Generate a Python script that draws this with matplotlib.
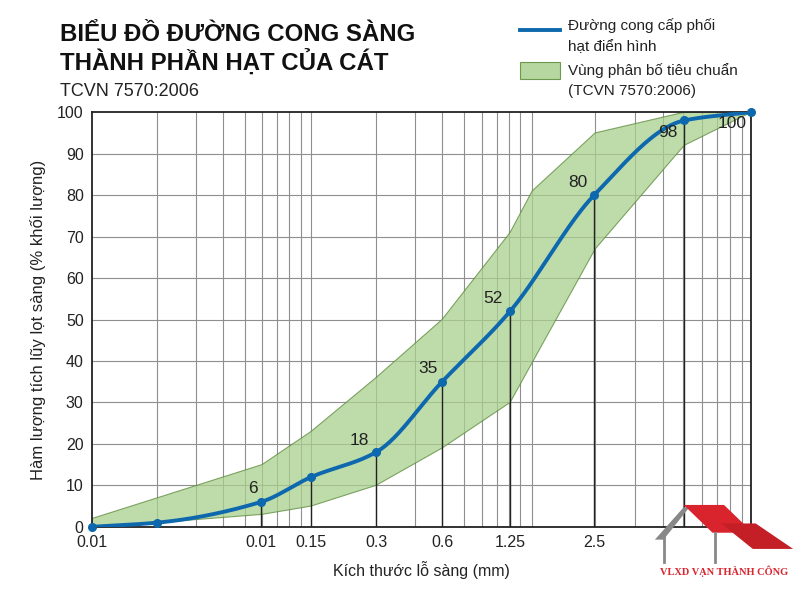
import numpy as np
import matplotlib
matplotlib.use("Agg")
import matplotlib.pyplot as plt
from matplotlib.patches import Polygon, Rectangle

plt.rcParams['font.family'] = ['Liberation Sans', 'DejaVu Sans']

# positions along the (hand-drawn) sieve axis
pt_pos = [92, 157, 261, 311, 376, 442, 510, 594, 684, 751]
pt_val = [0, 1, 6, 12, 18, 35, 52, 80, 98, 100]
pt_labels = ["", "", "6", "", "18", "35", "52", "80", "98", "100"]

upper_pos = [92, 262, 311, 376, 442, 510, 532, 595, 684, 751]
upper_val = [2, 15, 23, 36, 50, 71, 81, 95, 100, 100]
lower_pos = [92, 157, 262, 311, 376, 442, 510, 595, 684, 751]
lower_val = [0, 1, 3, 5, 10, 19, 30, 67, 92, 100]

tick_pos = [92, 261, 311, 376, 442, 510, 594]
tick_labels = ["0.01", "0.01", "0.15", "0.3", "0.6", "1.25", "2.5"]
grid_pos = [157, 196, 223, 245, 262, 277, 289, 301, 311, 376, 415, 442, 464,
            482, 497, 509, 520, 532, 595, 635, 663, 683, 702, 717, 730, 742]
drop_pos = [261, 311, 376, 442, 510, 594, 684, 751]
drop_val = [6, 12, 18, 35, 52, 80, 98, 100]


def pchip(x, y, xn):
    x = np.asarray(x, float); y = np.asarray(y, float)
    h = np.diff(x); d = np.diff(y) / h
    m = np.zeros_like(y)
    for k in range(1, len(x) - 1):
        if d[k-1] * d[k] > 0:
            w1 = 2*h[k] + h[k-1]; w2 = h[k] + 2*h[k-1]
            m[k] = (w1 + w2) / (w1/d[k-1] + w2/d[k])
    m[0] = d[0]; m[-1] = d[-1]
    idx = np.clip(np.searchsorted(x, xn) - 1, 0, len(x) - 2)
    t = (xn - x[idx]) / h[idx]
    h00 = 2*t**3 - 3*t**2 + 1; h10 = t**3 - 2*t**2 + t
    h01 = -2*t**3 + 3*t**2; h11 = t**3 - t**2
    return h00*y[idx] + h10*h[idx]*m[idx] + h01*y[idx+1] + h11*h[idx]*m[idx+1]


fig = plt.figure(figsize=(8, 6), dpi=100)
ax = fig.add_axes([0.115, 0.122, 0.824, 0.691])
ax.set_xlim(92, 751)
ax.set_ylim(0, 100)

for g in grid_pos:
    ax.axvline(g, color='#8f8f8f', lw=0.8, zorder=0)
for yv in range(10, 100, 10):
    ax.axhline(yv, color='#8f8f8f', lw=0.8, zorder=0)

env = list(zip(upper_pos, upper_val)) + list(zip(lower_pos[::-1], lower_val[::-1]))
ax.add_patch(Polygon(env, closed=True, facecolor='#a9d08e', alpha=0.75,
                     edgecolor='#5a8a3a', lw=0.8, zorder=1))

for p, v in zip(drop_pos, drop_val):
    ax.plot([p, p], [0, v], color='#222222', lw=1.0, zorder=2)

xs = np.linspace(92, 751, 600)
ax.plot(xs, pchip(pt_pos, pt_val, xs), color='#0d68ad', lw=2.8, zorder=3)
ax.plot(pt_pos, pt_val, 'o', color='#0d68ad', ms=5.5, zorder=4, clip_on=False)

offsets = {"6": (-6, 4, 'bottom'), "18": (-12, 3, 'bottom'), "35": (-10, 4, 'bottom'),
           "52": (-12, 4, 'bottom'), "80": (-12, 4, 'bottom'), "98": (-12, -3, 'top'),
           "100": (-14, -3, 'top')}
for p, v, lab in zip(pt_pos, pt_val, pt_labels):
    if lab:
        dx, dy, va = offsets[lab]
        ax.annotate(lab, (p, v), xytext=(dx, dy), textcoords='offset points',
                    ha='center', va=va, fontsize=12.5, color='#222222', zorder=5)

ax.set_xticks(tick_pos)
ax.set_xticklabels(tick_labels, fontsize=11.5)
ax.set_yticks(range(0, 101, 10))
ax.tick_params(axis='both', length=0, labelsize=11.5, pad=6, colors='#222222')
for s in ax.spines.values():
    s.set_linewidth(1.3); s.set_color('#222222')
ax.set_xlabel("Kích thước lỗ sàng (mm)", fontsize=11.5, labelpad=8, color='#222222')
ax.set_ylabel("Hàm lượng tích lũy lọt sàng (% khối lượng)", fontsize=12, labelpad=8, color='#222222')

fig.text(0.075, 0.942, "BIỂU ĐỒ ĐƯỜNG CONG SÀNG", fontsize=17.3, fontweight='bold', va='center', color='#111111')
fig.text(0.075, 0.895, "THÀNH PHẦN HẠT CỦA CÁT", fontsize=17.3, fontweight='bold', va='center', color='#111111')
fig.text(0.075, 0.848, "TCVN 7570:2006", fontsize=13, va='center', color='#222222')

# legend
fig.add_artist(plt.Line2D([0.65, 0.7], [0.95, 0.95], color='#0d68ad', lw=2.8, transform=fig.transFigure))
fig.text(0.71, 0.958, "Đường cong cấp phối", fontsize=11, va='center', color='#222222')
fig.text(0.71, 0.922, "hạt điển hình", fontsize=11, va='center', color='#222222')
fig.add_artist(Rectangle((0.65, 0.868), 0.05, 0.028, transform=fig.transFigure,
                         facecolor='#a9d08e', edgecolor='#5a8a3a', lw=0.8, alpha=0.85))
fig.text(0.71, 0.882, "Vùng phân bố tiêu chuẩn", fontsize=11, va='center', color='#222222')
fig.text(0.71, 0.848, "(TCVN 7570:2006)", fontsize=11, va='center', color='#222222')

# logo
lax = fig.add_axes([0.815, 0.035, 0.18, 0.135])
lax.set_xlim(0, 100); lax.set_ylim(0, 70); lax.axis('off')
lax.add_patch(Rectangle((0, 0), 100, 42, facecolor='white', edgecolor='none'))
lax.add_patch(Polygon([(2, 34), (22, 62), (26, 62), (8, 34)], facecolor='#888', edgecolor='none'))
lax.add_patch(Polygon([(22, 64), (50, 64), (70, 40), (42, 40)], facecolor='#d9232d'))
lax.add_patch(Polygon([(48, 48), (72, 48), (98, 26), (70, 26)], facecolor='#c41e26'))
lax.plot([8, 8], [15, 36], color='#888', lw=2)
lax.plot([44, 44], [15, 40], color='#888', lw=2)
lax.text(50, 7, "VLXD VẠN THÀNH CÔNG", ha='center', va='center', fontsize=7.5,
         fontweight='bold', color='#d9232d', family=['Liberation Serif', 'DejaVu Serif'])

fig.savefig("out.png", dpi=100, facecolor='white')
